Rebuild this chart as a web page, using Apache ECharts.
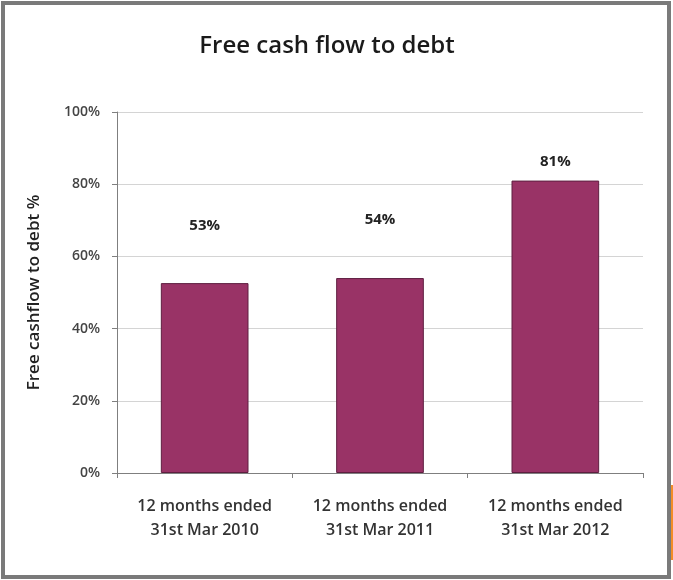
<!DOCTYPE html>
<html>
<head>
<meta charset="utf-8">
<script src="https://cdn.jsdelivr.net/npm/echarts@6/dist/echarts.min.js"></script>
<style>
html,body{margin:0;padding:0;background:#fff;}
#c{width:673px;height:580px;}
</style>
</head>
<body>
<div id="c"></div>
<script>
const titleText = 'Free cash flow to debt';
const yAxisName = 'Free cashflow to debt %';
const categories = ['12 months ended\n31st Mar 2010', '12 months ended\n31st Mar 2011', '12 months ended\n31st Mar 2012'];
const values = [52.6, 54.0, 81.0];
const valueLabels = ['53%', '54%', '81%'];
const labelDistances = [50, 51, 11];

const chart = echarts.init(document.getElementById('c'), null, {renderer: 'canvas'});
chart.setOption({
  backgroundColor: '#ffffff',
  animation: false,
  title: {
    text: titleText,
    left: 322, top: 29, textAlign: 'center',
    textStyle: {fontFamily: 'Open Sans', fontSize: 24, fontWeight: 600, color: '#1a1a1a'}
  },
  graphic: [
    {type: 'rect', shape: {x: 3, y: 3, width: 666, height: 574}, style: {fill: 'none', stroke: '#7a7a7a', lineWidth: 4}, silent: true},
    {type: 'rect', shape: {x: 671, y: 485, width: 2, height: 75}, style: {fill: '#f28c28'}, silent: true}
  ],
  grid: {left: 117, right: 30, top: 112, bottom: 107},
  xAxis: {
    type: 'category',
    data: categories,
    boundaryGap: true,
    axisLine: {lineStyle: {color: '#7f7f7f', width: 1}},
    axisTick: {show: true, length: 5, lineStyle: {color: '#7f7f7f'}},
    axisLabel: {interval: 0, hideOverlap: false, fontFamily: 'Open Sans', fontSize: 16, fontWeight: 600, color: '#333', lineHeight: 24, margin: 21}
  },
  yAxis: {
    type: 'value',
    min: 0, max: 100, interval: 20,
    name: yAxisName,
    nameLocation: 'middle',
    nameGap: 74,
    nameRotate: 90,
    nameTextStyle: {fontFamily: 'Open Sans', fontSize: 17, fontWeight: 600, color: '#222'},
    axisLine: {show: true, lineStyle: {color: '#7f7f7f'}},
    axisTick: {show: true, length: 5, lineStyle: {color: '#7f7f7f'}},
    axisLabel: {formatter: v => v + '%', fontFamily: 'Open Sans', fontSize: 14, fontWeight: 600, color: '#444', margin: 17},
    splitLine: {show: true, lineStyle: {color: '#d4d4d4', width: 1}}
  },
  series: [{
    type: 'bar',
    barWidth: '50%',
    data: values.map((v, i) => ({
      value: v,
      label: {show: true, position: 'top', distance: labelDistances[i], formatter: valueLabels[i]}
    })),
    itemStyle: {color: '#993366', borderColor: '#5e1f40', borderWidth: 1},
    label: {fontFamily: 'Open Sans', fontSize: 15, fontWeight: 700, color: '#222'}
  }]
});
</script>
</body>
</html>
